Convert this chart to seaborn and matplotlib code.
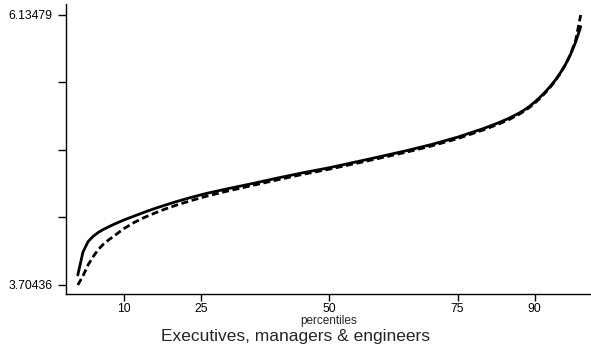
import numpy as np
import pandas as pd
import matplotlib
matplotlib.use("Agg")
import matplotlib.pyplot as plt
import seaborn as sns

percentiles = [1, 2, 3, 4, 5, 6, 7, 8, 9, 10, 12, 14, 16, 18, 20, 23, 26, 30, 35,
               40, 45, 50, 55, 60, 65, 70, 75, 80, 83, 85, 87, 88, 89, 90, 91, 92,
               93, 94, 95, 96, 97, 98, 99]
solid_values = [3.794, 4.000, 4.095, 4.143, 4.178, 4.205, 4.228, 4.250, 4.270,
                4.290, 4.325, 4.360, 4.393, 4.423, 4.452, 4.492, 4.528, 4.569,
                4.617, 4.668, 4.716, 4.760, 4.810, 4.861, 4.913, 4.970, 5.035,
                5.112, 5.165, 5.205, 5.252, 5.280, 5.312, 5.350, 5.392, 5.438,
                5.489, 5.546, 5.612, 5.688, 5.778, 5.890, 6.030]
dashed_values = [3.70436, 3.785, 3.885, 3.960, 4.025, 4.072, 4.110, 4.143, 4.178,
                 4.212, 4.268, 4.313, 4.352, 4.388, 4.420, 4.463, 4.503, 4.548,
                 4.600, 4.652, 4.702, 4.747, 4.797, 4.848, 4.900, 4.957, 5.022,
                 5.100, 5.153, 5.193, 5.241, 5.270, 5.303, 5.340, 5.382, 5.430,
                 5.482, 5.540, 5.607, 5.685, 5.780, 5.905, 6.13479]
series_names = ["solid", "dashed"]
y_tick_labels = ["3.70436", "6.13479"]
x_ticks = [10, 25, 50, 75, 90]

df = pd.DataFrame({
    "percentile": percentiles * 2,
    "value": solid_values + dashed_values,
    "series": [series_names[0]] * len(percentiles) + [series_names[1]] * len(percentiles),
})

sns.set_style("ticks")
plt.rcParams["font.family"] = ["Liberation Sans", "DejaVu Sans"]

fig = plt.figure(figsize=(5.91, 3.52), dpi=100)
ax = fig.add_axes([66 / 591, 1 - 294 / 352, 1 - 66 / 591, (294 - 4) / 352])

sns.lineplot(data=df, x="percentile", y="value", style="series",
             style_order=series_names,
             dashes={"solid": "", "dashed": (2.5, 1.3)},
             color="black", linewidth=2.0, legend=False, ax=ax)
for line in ax.get_lines():
    line.set_solid_joinstyle("round")
    line.set_dash_joinstyle("round")

ymin, ymax = float(y_tick_labels[0]), float(y_tick_labels[1])
yticks = [ymin + k * (ymax - ymin) / 4 for k in range(5)]
ax.set_yticks(yticks)
ax.set_yticklabels([y_tick_labels[0], "", "", "", y_tick_labels[1]])
ax.set_xticks(x_ticks)
ax.set_xticklabels([str(t) for t in x_ticks])

ax.set_xlim(-1.3, 101.0)
ax.set_ylim(3.6233, 6.2338)

for s in ["top", "right"]:
    ax.spines[s].set_visible(False)
for s in ["left", "bottom"]:
    ax.spines[s].set_linewidth(1.0)
    ax.spines[s].set_color("black")

ax.tick_params(axis="y", length=5.5, width=1.0, pad=4.5, labelsize=8.7, colors="black")
ax.tick_params(axis="x", length=4.8, width=1.0, pad=1.5, labelsize=8.7, colors="black")

ax.set_xlabel("percentiles", fontsize=8.5, labelpad=0.5)
ax.set_ylabel("")

fig.text(0.5, 1 - 337 / 352, "Executives, managers & engineers",
         ha="center", va="center", fontsize=12.5)

fig.savefig("out.png", dpi=100, facecolor="white")
